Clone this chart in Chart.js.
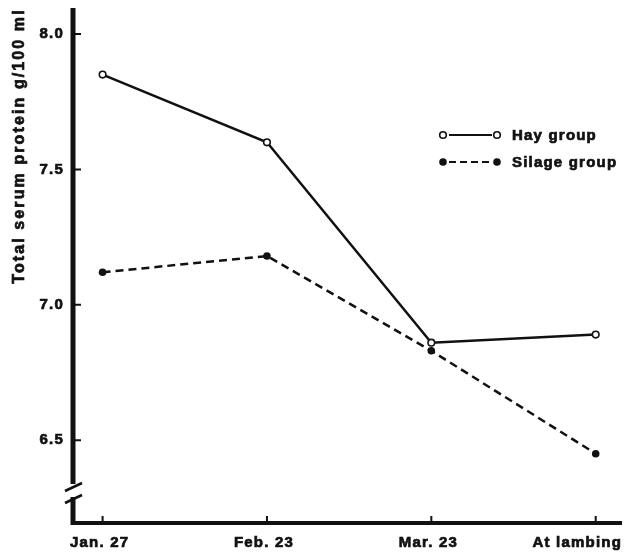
<!DOCTYPE html>
<html>
<head>
<meta charset="utf-8">
<script src="https://cdn.jsdelivr.net/npm/chart.js@4"></script>
<style>
  html, body { margin: 0; padding: 0; background: #fff; }
  #chart { display: block; }
</style>
</head>
<body>
<canvas id="chart" width="628" height="556"></canvas>
<script>
// Serum protein, hay vs silage ewes
const categories = ["Jan. 27", "Feb. 23", "Mar. 23", "At lambing"];
const hayValues = [7.85, 7.60, 6.86, 6.89];
const silageValues = [7.12, 7.18, 6.83, 6.45];
const yTicks = [6.5, 7.0, 7.5, 8.0];
const yTitle = "Total serum protein g/100 ml";

const ink = "#111";
const font = "'Liberation Sans', Arial, sans-serif";

function boldText(ctx, text, x, y) {
  ctx.lineWidth = 0.7;
  ctx.strokeText(text, x, y);
  ctx.fillText(text, x, y);
}

// axes, inward tick marks, break marks, labels, y title and legend
const decorations = {
  id: "decorations",
  beforeUpdate(chart) {
    chart.ctx.letterSpacing = "1.2px";
  },
  beforeDraw(chart) {
    chart.ctx.letterSpacing = "1.2px";
  },
  afterDraw(chart) {
    const ctx = chart.ctx;
    const area = chart.chartArea;
    const xs = chart.scales.x;
    const ys = chart.scales.y;
    ctx.save();
    ctx.strokeStyle = ink;
    ctx.fillStyle = ink;
    ctx.lineCap = "butt";

    // y axis with break
    ctx.lineWidth = 5;
    ctx.beginPath();
    ctx.moveTo(area.left, area.top);
    ctx.lineTo(area.left, 484);
    ctx.moveTo(area.left, 497);
    ctx.lineTo(area.left, area.bottom + 2);
    ctx.stroke();
    // x axis
    ctx.lineWidth = 4;
    ctx.beginPath();
    ctx.moveTo(area.left - 2, area.bottom);
    ctx.lineTo(area.right, area.bottom);
    ctx.stroke();

    // break slashes
    ctx.lineWidth = 2.5;
    ctx.beginPath();
    ctx.moveTo(area.left - 8, 491);
    ctx.lineTo(area.left + 9, 483);
    ctx.moveTo(area.left - 8, 503);
    ctx.lineTo(area.left + 9, 495);
    ctx.stroke();

    // inward ticks
    ctx.lineWidth = 2;
    ctx.beginPath();
    yTicks.forEach(v => {
      const y = ys.getPixelForValue(v);
      ctx.moveTo(area.left, y);
      ctx.lineTo(area.left + 8, y);
    });
    categories.forEach((c, i) => {
      const x = xs.getPixelForValue(i);
      ctx.moveTo(x, area.bottom);
      ctx.lineTo(x, area.bottom - 7);
    });
    ctx.stroke();

    // x labels (last one kept inside the axis end)
    ctx.font = "bold 15px " + font;
    ctx.letterSpacing = "1.2px";
    ctx.textBaseline = "middle";
    categories.forEach((c, i) => {
      const x = xs.getPixelForValue(i);
      const w = ctx.measureText(c).width;
      if (x + w / 2 > area.right) {
        ctx.textAlign = "right";
        boldText(ctx, c, area.right, 543);
      } else {
        ctx.textAlign = "center";
        boldText(ctx, c, x - 3, 543);
      }
    });

    // y title
    ctx.save();
    ctx.letterSpacing = "2.1px";
    ctx.font = "bold 16px " + font;
    ctx.textAlign = "center";
    ctx.textBaseline = "middle";
    ctx.translate(20, 146);
    ctx.rotate(-Math.PI / 2);
    boldText(ctx, yTitle, 0, 0);
    ctx.restore();

    // legend
    const items = [
      { label: "Hay group", y: 135, filled: false, dash: [] },
      { label: "Silage group", y: 162, filled: true, dash: [7, 4] }
    ];
    items.forEach(it => {
      ctx.lineWidth = 2.2;
      ctx.setLineDash(it.dash);
      ctx.beginPath();
      ctx.moveTo(449, it.y);
      ctx.lineTo(492, it.y);
      ctx.stroke();
      ctx.setLineDash([]);
      [443, 497].forEach(x => {
        ctx.beginPath();
        ctx.arc(x, it.y, it.filled ? 3.8 : 3.3, 0, Math.PI * 2);
        if (it.filled) {
          ctx.fill();
        } else {
          ctx.fillStyle = "#fff";
          ctx.fill();
          ctx.lineWidth = 1.6;
          ctx.stroke();
          ctx.fillStyle = ink;
        }
      });
      ctx.font = "bold 15px " + font;
      ctx.textAlign = "left";
      ctx.textBaseline = "middle";
      boldText(ctx, it.label, 512, it.y + 1);
    });

    ctx.restore();
  }
};

new Chart(document.getElementById("chart"), {
  type: "line",
  data: {
    datasets: [
      {
        label: "Hay group",
        data: hayValues.map((v, i) => ({ x: i, y: v })),
        borderColor: ink,
        borderWidth: 2.5,
        pointStyle: "circle",
        pointRadius: 3.3,
        pointBackgroundColor: "#fff",
        pointBorderColor: ink,
        pointBorderWidth: 1.6,
        tension: 0,
      },
      {
        label: "Silage group",
        data: silageValues.map((v, i) => ({ x: i, y: v })),
        borderColor: ink,
        borderWidth: 2.5,
        borderDash: [8, 5],
        pointRadius: 3.8,
        pointBackgroundColor: ink,
        pointBorderColor: ink,
        pointBorderWidth: 0,
        tension: 0,
      },
    ],
  },
  options: {
    responsive: false,
    animation: false,
    layout: {
      padding: { top: 8, right: 6, left: 0, bottom: 0 },
    },
    plugins: {
      legend: { display: false },
      tooltip: { enabled: false },
    },
    scales: {
      x: {
        type: "linear",
        min: -0.18,
        max: 3.16,
        afterBuildTicks: (scale) => {
          scale.ticks = categories.map((c, i) => ({ value: i }));
        },
        afterFit: (scale) => {
          scale.height = 33;
          scale.paddingLeft = 0;
          scale.paddingRight = 0;
        },
        border: { display: false },
        grid: { display: false, drawTicks: false },
        ticks: { display: false },
      },
      y: {
        min: 6.194,
        max: 8.096,
        afterBuildTicks: (scale) => {
          scale.ticks = yTicks.map((v) => ({ value: v }));
        },
        afterFit: (scale) => {
          scale.width = 73;
          scale.paddingTop = 0;
          scale.paddingBottom = 0;
        },
        border: { display: false },
        grid: { display: false, drawTicks: false },
        ticks: {
          color: ink,
          padding: 9,
          textStrokeColor: ink,
          textStrokeWidth: 0.7,
          font: { family: font, size: 15, weight: "bold" },
          callback: (v) => v.toFixed(1),
        },
      },
    },
  },
  plugins: [decorations],
});
</script>
</body>
</html>
